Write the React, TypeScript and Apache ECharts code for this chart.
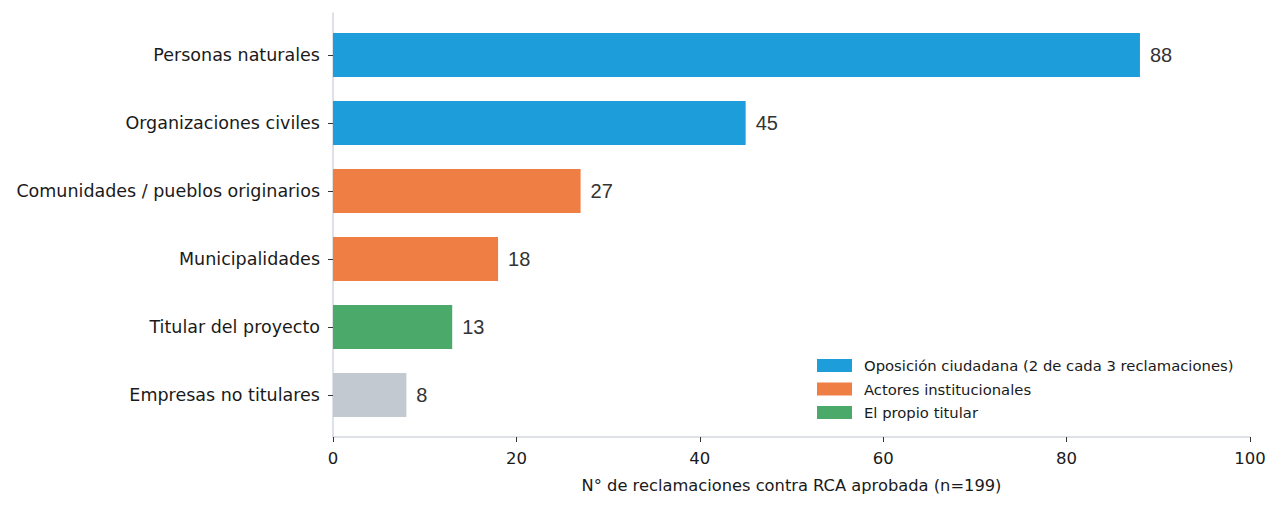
import React, { useEffect, useRef } from "react";
import * as echarts from "echarts";

// categories from top to bottom
const categories = [
  "Personas naturales",
  "Organizaciones civiles",
  "Comunidades / pueblos originarios",
  "Municipalidades",
  "Titular del proyecto",
  "Empresas no titulares",
];
const values = [88, 45, 27, 18, 13, 8];
// group index per category (3 = other, not in legend)
const groups = [0, 0, 1, 1, 2, 3];
const groupNames = [
  "Oposición ciudadana (2 de cada 3 reclamaciones)",
  "Actores institucionales",
  "El propio titular",
  "Otros",
];
const groupColors = ["#1d9dd9", "#ef7e45", "#4ba969", "#c3c9d1"];
const xTicks = [0, 20, 40, 60, 80, 100];

const FONT = "'DejaVu Sans', 'Noto Sans', sans-serif";

const App: React.FC = () => {
  const chartRef = useRef<HTMLDivElement>(null);

  useEffect(() => {
    if (!chartRef.current) return;
    const chart = echarts.init(chartRef.current, null, { renderer: "svg" });

    const series: any[] = groupNames.map((name, g) => ({
      name,
      type: "bar",
      xAxisIndex: 0,
      yAxisIndex: 0,
      barWidth: 44,
      barGap: "-100%",
      itemStyle: { color: groupColors[g] },
      label: {
        show: true,
        position: "right",
        distance: 10,
        color: "#333",
        fontSize: 20,
        fontFamily: "'Liberation Sans', Arial, sans-serif",
      },
      data: values.map((v, i) => (groups[i] === g ? v : null)),
    }));

    const option: echarts.EChartsOption = {
      animation: false,
      textStyle: { fontFamily: FONT },
      legend: {
        data: groupNames.slice(0, 3),
        orient: "vertical",
        left: 804,
        top: 345,
        itemWidth: 35,
        itemHeight: 13,
        itemGap: 8.5,
        icon: "rect",
        textStyle: { fontSize: 14.8, color: "#1a1a1a", fontFamily: FONT, padding: [0, 0, 0, 7] },
      },
      grid: [
        { left: 325, top: 13, width: 917, height: 408 },
        { left: 325, top: 5, width: 917, height: 424 },
      ],
      xAxis: [
        {
          type: "value",
          gridIndex: 0,
          min: 0,
          max: xTicks[xTicks.length - 1],
          interval: 20,
          offset: 8,
          name: "N° de reclamaciones contra RCA aprobada (n=199)",
          nameLocation: "middle",
          nameGap: 40,
          nameTextStyle: { fontSize: 16.3, color: "#1a1a1a", fontFamily: FONT },
          axisLine: { show: true, lineStyle: { color: "#d3d7de", width: 1.5 } },
          axisTick: { show: true, length: 5, lineStyle: { color: "#333" } },
          axisLabel: { fontSize: 16.5, color: "#1a1a1a", margin: 13, fontFamily: FONT },
          splitLine: { show: false },
        },
        {
          type: "value",
          gridIndex: 1,
          show: false,
          min: 0,
          max: 100,
        },
      ],
      yAxis: [
        {
          type: "category",
          gridIndex: 0,
          inverse: true,
          data: categories,
          axisLine: { show: false },
          axisTick: { show: true, length: 5, alignWithLabel: true, lineStyle: { color: "#333" } },
          axisLabel: { fontSize: 17.5, color: "#1a1a1a", margin: 13, fontFamily: FONT },
        },
        {
          type: "value",
          gridIndex: 1,
          min: 0,
          max: 1,
          axisLine: { show: true, lineStyle: { color: "#d3d7de", width: 1.5 } },
          axisTick: { show: false },
          axisLabel: { show: false },
          splitLine: { show: false },
        },
      ],
      series,
    };

    chart.setOption(option);
    return () => chart.dispose();
  }, []);

  return <div ref={chartRef} style={{ width: 1267, height: 495 }} />;
};

export default App;
